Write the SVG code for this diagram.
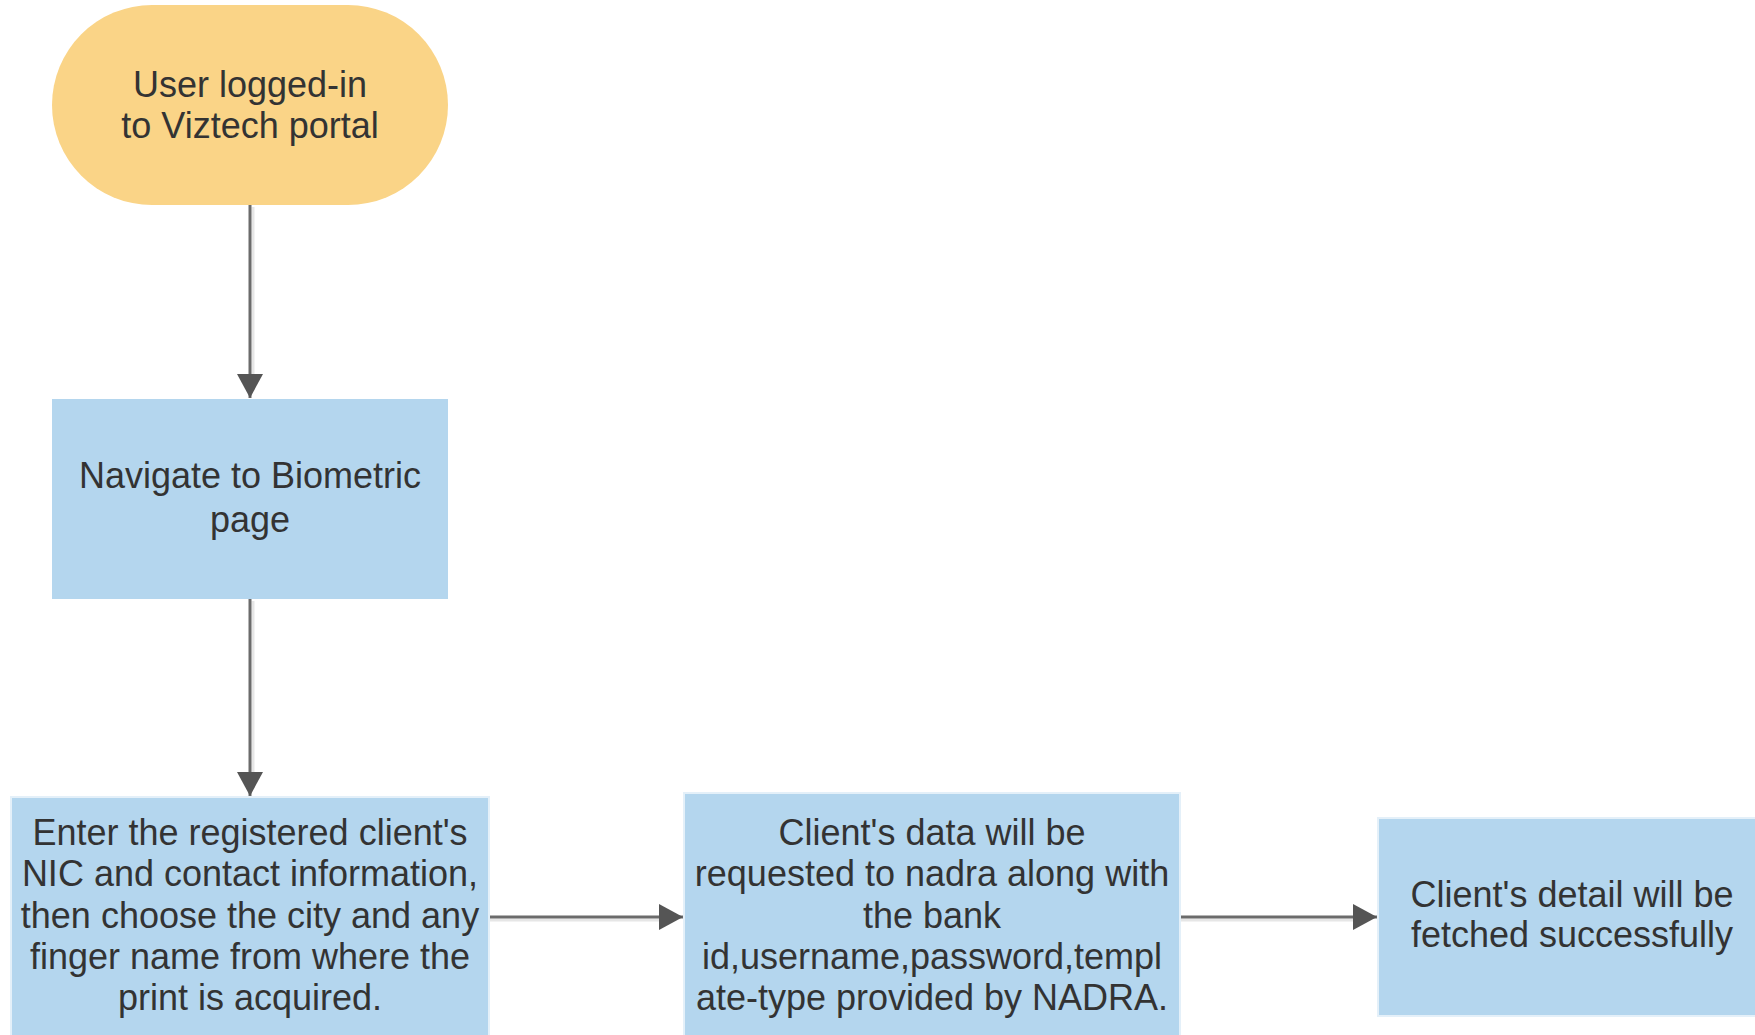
<svg xmlns="http://www.w3.org/2000/svg" width="1755" height="1035" viewBox="0 0 1755 1035">
<style>
.lbl{font-family:"Liberation Sans",Arial,sans-serif;font-size:36px;fill:#333333;text-anchor:middle}
.proc{fill:#b4d6ee;stroke:#e4f0f9;stroke-width:2}
.edge{stroke:#6b6b6b;stroke-width:3;fill:none}
.shadow{stroke:#e6e6e6;stroke-width:3;fill:none}
</style>
<defs>
<marker id="arr" markerUnits="userSpaceOnUse" markerWidth="26" markerHeight="26" refX="24" refY="13" orient="auto">
<path d="M0,0 L24,13 L0,26 Z" fill="#555555"/>
</marker>
</defs>
<rect width="1755" height="1035" fill="#ffffff"/>
<g id="connectors">
<line class="shadow" x1="253" y1="207" x2="253" y2="374"/>
<line class="shadow" x1="253" y1="601" x2="253" y2="772"/>
<line class="shadow" x1="490" y1="920" x2="659" y2="920"/>
<line class="shadow" x1="1181" y1="920" x2="1353" y2="920"/>
<line class="edge" x1="250" y1="205" x2="250" y2="398" marker-end="url(#arr)"/>
<line class="edge" x1="250" y1="599" x2="250" y2="796" marker-end="url(#arr)"/>
<line class="edge" x1="489" y1="917" x2="683" y2="917" marker-end="url(#arr)"/>
<line class="edge" x1="1180" y1="917" x2="1377" y2="917" marker-end="url(#arr)"/>
</g>
<g id="start">
<rect x="52" y="5" width="396" height="200" rx="100" ry="100" fill="#fad487"/>
<text class="lbl" x="250" y="97">User logged-in</text>
<text class="lbl" x="250" y="138">to Viztech portal</text>
</g>
<g id="navigate">
<rect x="52" y="399" width="396" height="200" fill="#b4d6ee"/>
<text class="lbl" x="250" y="488">Navigate to Biometric</text>
<text class="lbl" x="250" y="532">page</text>
</g>
<g id="enter">
<rect class="proc" x="11" y="797" width="478" height="245"/>
<text class="lbl" x="250" y="845">Enter the registered client's</text>
<text class="lbl" x="250" y="886">NIC and contact information,</text>
<text class="lbl" x="250" y="928">then choose the city and any</text>
<text class="lbl" x="250" y="969">finger name from where the</text>
<text class="lbl" x="250" y="1010">print is acquired.</text>
</g>
<g id="request">
<rect class="proc" x="684" y="793" width="496" height="250"/>
<text class="lbl" x="932" y="845">Client's data will be</text>
<text class="lbl" x="932" y="886">requested to nadra along with</text>
<text class="lbl" x="932" y="928">the bank</text>
<text class="lbl" x="932" y="969">id,username,password,templ</text>
<text class="lbl" x="932" y="1010">ate-type provided by NADRA.</text>
</g>
<g id="fetched">
<rect class="proc" x="1378" y="818" width="392" height="198"/>
<text class="lbl" x="1572" y="907">Client's detail will be</text>
<text class="lbl" x="1572" y="947">fetched successfully</text>
</g>
</svg>
